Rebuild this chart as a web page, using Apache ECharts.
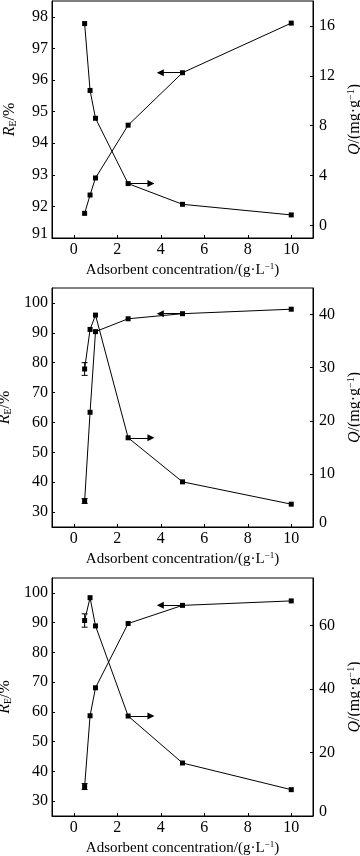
<!DOCTYPE html>
<html>
<head>
<meta charset="utf-8">
<script src="https://cdn.jsdelivr.net/npm/echarts@6/dist/echarts.min.js"></script>
<style>html,body{margin:0;padding:0;background:#fff;}#c{width:360px;height:856px;}</style>
</head>
<body>
<div id="c"></div>
<script>
// ---- data ----
const xConc = [0.5, 0.75, 1, 2.5, 5, 10];
const re1 = [91.78, 92.36, 92.9, 94.57, 96.23, 97.8];
const q1 = [16.19, 10.83, 8.6, 3.36, 1.7, 0.85];
const re2 = [33.7, 63.4, 90.4, 94.7, 96.4, 97.9];
const q2 = [29.75, 37.2, 39.9, 16.8, 8.5, 4.3];
const re3 = [34.9, 58.7, 68.1, 89.7, 95.8, 97.3];
const q3 = [61.6, 68.8, 59.9, 31.5, 16.7, 8.3];
const errRe2 = [0.8, 0, 0, 0, 0, 0];
const errQ2 = [1.2, 0, 0, 0, 0, 0];
const errRe3 = [1.0, 0, 0, 0, 0, 0];
const errQ3 = [2.1, 0, 0, 0, 0, 0];
const xTicks = [0, 2, 4, 6, 8, 10];
const re1Ticks = [91, 92, 93, 94, 95, 96, 97, 98];
const q1Ticks = [0, 4, 8, 12, 16];
const reTicks = [30, 40, 50, 60, 70, 80, 90, 100];
const q2Ticks = [0, 10, 20, 30, 40];
const q3Ticks = [0, 20, 40, 60];

const FONT = 'Liberation Serif';
const BLACK = '#000';

const panels = [
  {top: 1, height: 237, re: re1, q: q1, reMin: 91, reMax: 98.5, qMin: -1, qMax: 18, reT: re1Ticks, qT: q1Ticks, eRe: null, eQ: null, liftRe: true, liftQ: false},
  {top: 288, height: 239, re: re2, q: q2, reMin: 25, reMax: 105, qMin: 0, qMax: 45, reT: reTicks, qT: q2Ticks, eRe: errRe2, eQ: errQ2, liftRe: false, liftQ: true},
  {top: 578, height: 238, re: re3, q: q3, reMin: 25, reMax: 105, qMin: 0, qMax: 75, reT: reTicks, qT: q3Ticks, eRe: errRe3, eQ: errQ3, liftRe: false, liftQ: true}
];

const TF = 16;
const lbl = {fontFamily: FONT, fontSize: TF, color: BLACK};
const grids = [], xAxes = [], yAxes = [], series = [];

function errData(vals, errs) {
  const out = [];
  if (!errs) return out;
  for (let i = 0; i < vals.length; i++) {
    if (errs[i] > 0) out.push([xConc[i], vals[i] - errs[i], vals[i] + errs[i]]);
  }
  return out;
}

function renderErr(params, api) {
  const x = api.value(0);
  const p1 = api.coord([x, api.value(1)]);
  const p2 = api.coord([x, api.value(2)]);
  const w = 3;
  const st = {stroke: BLACK, lineWidth: 1};
  return {type: 'group', children: [
    {type: 'line', shape: {x1: p1[0], y1: p1[1], x2: p2[0], y2: p2[1]}, style: st},
    {type: 'line', shape: {x1: p1[0] - w, y1: p1[1], x2: p1[0] + w, y2: p1[1]}, style: st},
    {type: 'line', shape: {x1: p2[0] - w, y1: p2[1], x2: p2[0] + w, y2: p2[1]}, style: st}
  ]};
}

function yLabel(ticks, lift, margin) {
  const lowest = ticks[0];
  return Object.assign({
    margin: margin, customValues: ticks,
    formatter: function (v) { return (lift && v === lowest) ? '{lo|' + v + '}' : '{n|' + v + '}'; },
    rich: {
      lo: {fontFamily: FONT, fontSize: TF, color: BLACK, padding: [0, 0, 9, 0]},
      n: {fontFamily: FONT, fontSize: TF, color: BLACK}
    }
  }, lbl);
}

panels.forEach((p, k) => {
  grids.push({left: 52, right: 47, top: p.top, height: p.height, show: true, borderColor: BLACK, borderWidth: 1,
    containLabel: false, outerBoundsMode: 'none'});
  xAxes.push({
    type: 'value', gridIndex: k, min: -1, max: 11,
    axisLine: {onZero: false, lineStyle: {color: BLACK, width: 1}},
    axisTick: {inside: true, length: 3, lineStyle: {color: BLACK}, customValues: xTicks},
    axisLabel: Object.assign({margin: 4, customValues: xTicks}, lbl),
    splitLine: {show: false},
    name: 'Adsorbent concentration/(g·L{sup|−1})',
    nameLocation: 'middle', nameGap: 24,
    nameTextStyle: {fontFamily: FONT, fontSize: 15, color: BLACK, lineHeight: 16,
      rich: {sup: {fontFamily: FONT, fontSize: 9, lineHeight: 9, verticalAlign: 'top', color: BLACK}}}
  });
  yAxes.push({
    type: 'value', gridIndex: k, position: 'left', min: p.reMin, max: p.reMax,
    axisLine: {show: true, onZero: false, lineStyle: {color: BLACK, width: 1}},
    axisTick: {show: true, inside: true, length: 3, lineStyle: {color: BLACK}, customValues: p.reT},
    axisLabel: yLabel(p.reT, p.liftRe, 4),
    splitLine: {show: false},
    name: '{i|R}{sub|E}{n|/%}',
    nameLocation: 'middle', nameGap: 34,
    nameTextStyle: {fontFamily: FONT, fontSize: 16, color: BLACK,
      rich: {
        i: {fontFamily: FONT, fontStyle: 'italic', fontSize: 16, lineHeight: 17, color: BLACK},
        sub: {fontFamily: FONT, fontSize: 10, lineHeight: 10, verticalAlign: 'bottom', color: BLACK},
        n: {fontFamily: FONT, fontSize: 16, lineHeight: 17, color: BLACK}
      }}
  });
  yAxes.push({
    type: 'value', gridIndex: k, position: 'right', min: p.qMin, max: p.qMax,
    axisLine: {show: true, onZero: false, lineStyle: {color: BLACK, width: 1}},
    axisTick: {show: true, inside: true, length: 3, lineStyle: {color: BLACK}, customValues: p.qT},
    axisLabel: yLabel(p.qT, p.liftQ, 6),
    splitLine: {show: false},
    name: '{i|Q}{n|/(mg·g}{sup|−1}{n|)}',
    nameLocation: 'middle', nameGap: 30,
    nameTextStyle: {fontFamily: FONT, fontSize: 16, color: BLACK,
      rich: {
        i: {fontFamily: FONT, fontStyle: 'italic', fontSize: 16, lineHeight: 17, color: BLACK},
        n: {fontFamily: FONT, fontSize: 16, lineHeight: 17, color: BLACK},
        sup: {fontFamily: FONT, fontSize: 10, lineHeight: 10, verticalAlign: 'top', color: BLACK}
      }}
  });
  const common = {
    type: 'line', xAxisIndex: k, symbol: 'rect', symbolSize: 5, showSymbol: true,
    itemStyle: {color: BLACK}, lineStyle: {color: BLACK, width: 1}, z: 3
  };
  series.push(Object.assign({}, common, {
    yAxisIndex: 2 * k,
    data: xConc.map((x, i) => [x, p.re[i]]),
    markLine: {silent: true, symbol: ['none', 'triangle'], symbolSize: 7,
      label: {show: false}, lineStyle: {color: BLACK, type: 'solid', width: 1},
      data: [[{coord: [xConc[4], p.re[4]]}, {coord: [xConc[4] - 1.02, p.re[4]]}]]}
  }));
  series.push(Object.assign({}, common, {
    yAxisIndex: 2 * k + 1,
    data: xConc.map((x, i) => [x, p.q[i]]),
    markLine: {silent: true, symbol: ['none', 'triangle'], symbolSize: 7,
      label: {show: false}, lineStyle: {color: BLACK, type: 'solid', width: 1},
      data: [[{coord: [xConc[3], p.q[3]]}, {coord: [xConc[3] + 1.05, p.q[3]]}]]}
  }));
  const eR = errData(p.re, p.eRe), eQ = errData(p.q, p.eQ);
  if (eR.length) series.push({type: 'custom', xAxisIndex: k, yAxisIndex: 2 * k, renderItem: renderErr, data: eR, z: 2, silent: true});
  if (eQ.length) series.push({type: 'custom', xAxisIndex: k, yAxisIndex: 2 * k + 1, renderItem: renderErr, data: eQ, z: 2, silent: true});
});

const chart = echarts.init(document.getElementById('c'), null, {renderer: 'canvas'});
chart.setOption({
  animation: false,
  backgroundColor: '#fff',
  grid: grids, xAxis: xAxes, yAxis: yAxes, series: series
});
</script>
</body>
</html>
